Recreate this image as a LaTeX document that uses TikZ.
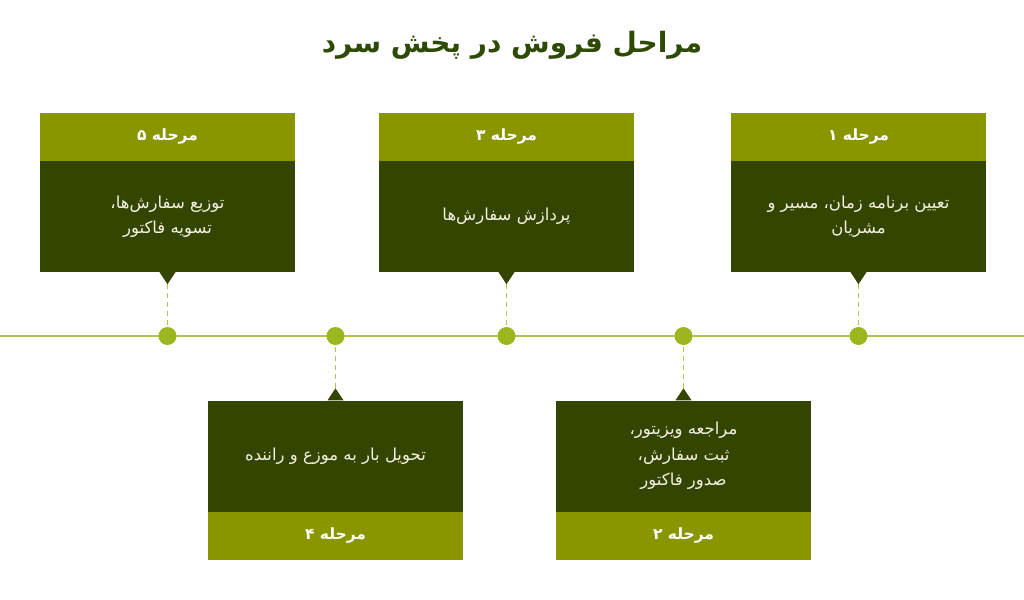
\documentclass[tikz,border=0pt]{standalone}
\usepackage{fontspec}
\TeXXeTstate=1
\newfontfamily\arabicfont[Script=Arabic]{DejaVu Sans}
\usetikzlibrary{positioning}
\definecolor{headolive}{HTML}{8A9600}
\definecolor{bodygreen}{HTML}{334500}
\definecolor{linegreen}{HTML}{ABC452}
\definecolor{dotgreen}{HTML}{9BB61E}
\definecolor{titlegreen}{HTML}{2F4A05}
\definecolor{bodytext}{HTML}{F2F2E4}
\newcommand{\fa}[1]{{\arabicfont\beginR #1\endR}}

\begin{document}
\begin{tikzpicture}[x=1pt,y=-1pt,
    body/.style={fill=bodygreen,minimum width=255pt,minimum height=111pt,inner sep=0pt,
      text=bodytext,font=\fontsize{16.5}{25.5}\selectfont,align=center},
    head/.style={fill=headolive,minimum width=255pt,minimum height=48pt,inner sep=0pt,
      text=white,font=\bfseries\fontsize{15.5}{18}\selectfont},
    dot/.style={circle,fill=dotgreen,minimum size=18pt,inner sep=0pt},
    link/.style={draw=linegreen,line width=1.2pt,dash pattern=on 5pt off 4pt}]
    \fill[white] (0,0) rectangle (1024,599);
    \useasboundingbox (0,0) rectangle (1024,599);

    % title
    \node[font=\bfseries\fontsize{28}{30}\selectfont,text=titlegreen] (title) at (512,45)
      {\fa{مراحل فروش در پخش سرد}};

    % timeline
    \coordinate (tl) at (0,336);
    \coordinate (tr) at (1024,336);
    \draw[linegreen,line width=2pt] (tl) -- (tr);

    % upper boxes
    \node[body] (b5) at (167.5,216.5) {\fa{توزیع سفارش‌ها،}\\\fa{تسویه فاکتور}};
    \node[head,above=0pt of b5] (h5) {\fa{مرحله ۵}};
    \node[body] (b3) at (506.5,216.5) {\fa{پردازش سفارش‌ها}};
    \node[head,above=0pt of b3] (h3) {\fa{مرحله ۳}};
    \node[body] (b1) at (858.5,216.5) {\fa{تعیین برنامه زمان، مسیر و}\\\fa{مشریان}};
    \node[head,above=0pt of b1] (h1) {\fa{مرحله ۱}};

    % lower boxes
    \node[body] (b4) at (335.5,456) {\fa{تحویل بار به موزع و راننده}};
    \node[head,below=0pt of b4] (h4) {\fa{مرحله ۴}};
    \node[body] (b2) at (683.5,456) {\fa{مراجعه ویزیتور،}\\\fa{ثبت سفارش،}\\\fa{صدور فاکتور}};
    \node[head,below=0pt of b2] (h2) {\fa{مرحله ۲}};

    % pointers
    \fill[bodygreen] (b5.south) ++(-8,0) -- ++(8,12) coordinate (t5) -- ++(8,-12) -- cycle;
    \fill[bodygreen] (b3.south) ++(-8,0) -- ++(8,12) coordinate (t3) -- ++(8,-12) -- cycle;
    \fill[bodygreen] (b1.south) ++(-8,0) -- ++(8,12) coordinate (t1) -- ++(8,-12) -- cycle;
    \fill[bodygreen] (b4.north) ++(-8,0) -- ++(8,-12) coordinate (t4) -- ++(8,12) -- cycle;
    \fill[bodygreen] (b2.north) ++(-8,0) -- ++(8,-12) coordinate (t2) -- ++(8,12) -- cycle;

    % dots
    \node[dot] (d5) at (167.5,336) {};
    \node[dot] (d4) at (335.5,336) {};
    \node[dot] (d3) at (506.5,336) {};
    \node[dot] (d2) at (683.5,336) {};
    \node[dot] (d1) at (858.5,336) {};

    \draw[link] (t5) -- (d5);
    \draw[link] (t3) -- (d3);
    \draw[link] (t1) -- (d1);
    \draw[link] (t4) -- (d4);
    \draw[link] (t2) -- (d2);
\end{tikzpicture}
\end{document}
